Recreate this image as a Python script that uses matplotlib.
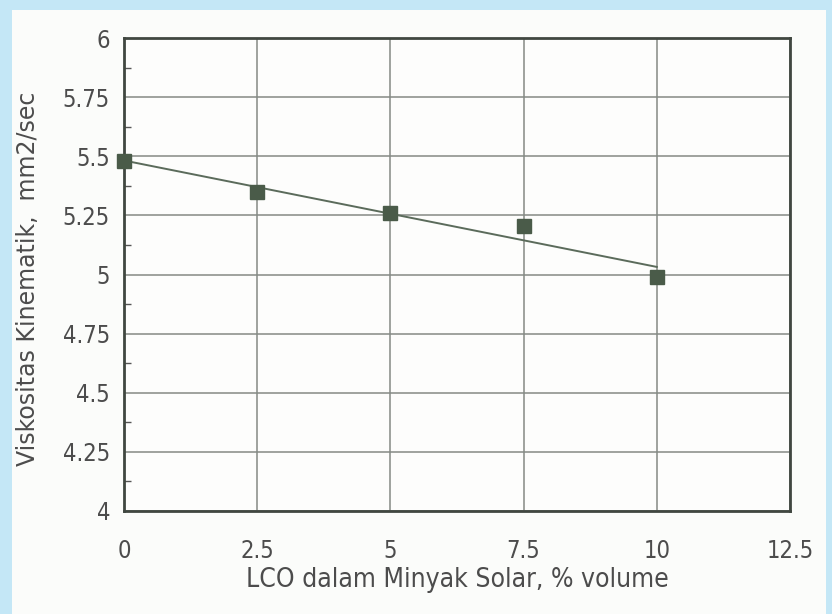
import numpy as np
import matplotlib.pyplot as plt
from matplotlib.patches import Rectangle
from matplotlib.ticker import MultipleLocator

# kadar LCO (% volume) dan viskositas kinematik (mm2/sec)
lco = [0, 2.5, 5, 7.5, 10]
viskositas = [5.48, 5.35, 5.26, 5.205, 4.99]

x_ticks = [0, 2.5, 5, 7.5, 10, 12.5]
x_ticklabels = ['0', '2.5', '5', '7.5', '10', '12.5']
y_ticks = [4, 4.25, 4.5, 4.75, 5, 5.25, 5.5, 5.75, 6]
y_ticklabels = ['4', '4.25', '4.5', '4.75', '5', '5.25', '5.5', '5.75', '6']

fig = plt.figure(figsize=(8.32, 6.14), dpi=100)
fig.patch.set_facecolor('#c4e7f6')
# panel putih di belakang grafik
fig.patches.append(Rectangle((12 / 832, 0), (826 - 12) / 832, 1 - 10 / 614,
                             transform=fig.transFigure, facecolor='#fbfcfa',
                             edgecolor='none', zorder=-5))

ax = fig.add_axes([124 / 832, 1 - 511 / 614, (790 - 124) / 832, (511 - 38) / 614])
ax.set_zorder(2)
ax.set_facecolor('#fdfdfc')

# garis tren linear
k, c = np.polyfit(lco, viskositas, 1)
xs = np.array([lco[0], lco[-1]])
ax.plot(xs, k * xs + c, color='#5b6b5b', lw=1.4, zorder=3)
ax.plot(lco, viskositas, 's', color='#4a5b49', markersize=10, zorder=4,
        clip_on=False)

ax.set_xlim(0, 12.5)
ax.set_ylim(4, 6)
ax.set_xticks(x_ticks)
ax.set_xticklabels(x_ticklabels)
ax.set_yticks(y_ticks)
ax.set_yticklabels(y_ticklabels)
ax.yaxis.set_minor_locator(MultipleLocator(0.125))
ax.grid(True, color='#858a85', lw=1.1)
ax.tick_params(axis='both', which='major', length=0,
               labelsize=17, labelcolor='#4c4c4c')
ax.tick_params(axis='x', which='major', pad=20)
ax.tick_params(axis='y', which='major', pad=10)
ax.tick_params(axis='y', which='minor', direction='in', length=5,
               color='#555555', width=1)
for lab in ax.get_xticklabels() + ax.get_yticklabels():
    lab.set_family('DejaVu Sans')
    lab.set_stretch('condensed')

for s in ax.spines.values():
    s.set_color('#404740')
    s.set_linewidth(2)

ax.set_xlabel('LCO dalam Minyak Solar, % volume', fontsize=19,
              color='#4c4c4c', family='DejaVu Sans', stretch='condensed',
              labelpad=3)
ax.set_ylabel('Viskositas Kinematik,  mm2/sec', fontsize=17,
              color='#4c4c4c', family='DejaVu Sans', stretch='normal')
ax.yaxis.set_label_coords(-84 / 666, 0.49)

fig.savefig('out.png', dpi=100, facecolor=fig.get_facecolor())
